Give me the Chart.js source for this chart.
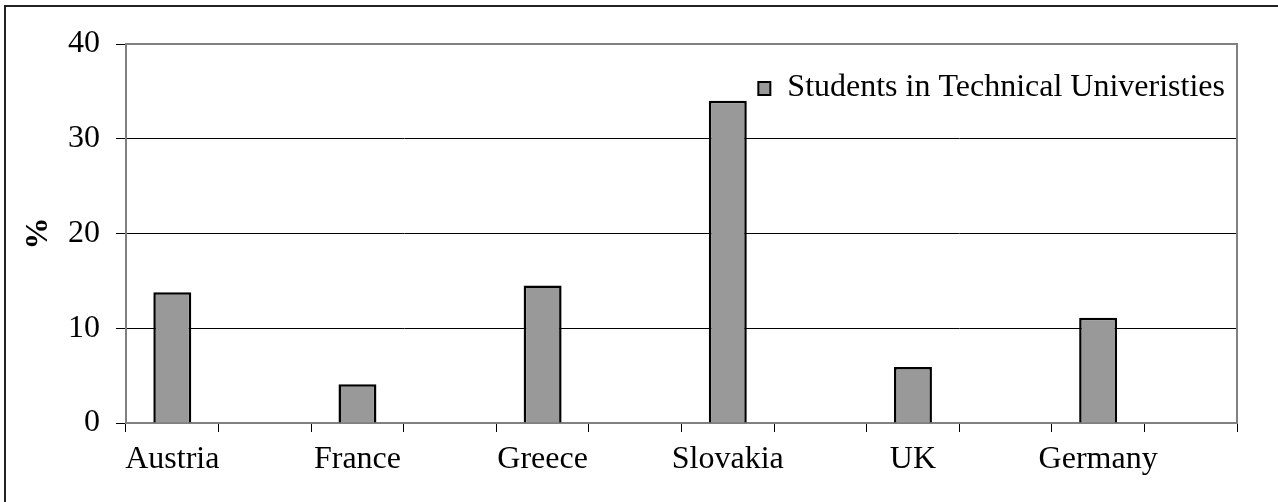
<!DOCTYPE html>
<html>
<head>
<meta charset="utf-8">
<script src="https://cdn.jsdelivr.net/npm/chart.js@4/dist/chart.umd.min.js"></script>
<style>
    html, body { margin: 0; padding: 0; background: #fff; overflow: hidden; }
    #wrap { position: relative; width: 1278px; height: 502px; }
    #frame {
        position: absolute; left: 4px; top: 5px; width: 1290px; height: 510px;
        border-left: 2px solid #222; border-top: 2px solid #222;
        pointer-events: none;
    }
    canvas { position: absolute; left: 0; top: 0; }
</style>
</head>
<body>
<div id="wrap">
    <canvas id="chart" width="1278" height="502"></canvas>
    <div id="frame"></div>
</div>
<script>
// categories (blank slots between countries, like the original sheet)
const countries = ['Austria', '', 'France', '', 'Greece', '', 'Slovakia', '', 'UK', '', 'Germany', ''];
const studentsPct = [13.8, null, 4.1, null, 14.5, null, 34.0, null, 5.9, null, 11.1, null];
const yTicks = [0, 10, 20, 30, 40];
const seriesName = 'Students in Technical Univeristies';

const FONT = "'Liberation Serif', 'Times New Roman', serif";
const FONT_SIZE = 32;

// grey frame on top and right of the plot area
const plotFrame = {
    id: 'plotFrame',
    afterDatasetsDraw(chart) {
        const { ctx, chartArea: a } = chart;
        ctx.save();
        ctx.strokeStyle = '#808080';
        ctx.lineWidth = 2;
        ctx.beginPath();
        ctx.moveTo(a.left, a.top);
        ctx.lineTo(a.right, a.top);
        ctx.lineTo(a.right, a.bottom);
        ctx.stroke();
        ctx.restore();
    }
};

// legend drawn inside the plot, top right
const innerLegend = {
    id: 'innerLegend',
    afterDraw(chart) {
        const { ctx, chartArea: a } = chart;
        const ds = chart.data.datasets[0];
        ctx.save();
        ctx.font = FONT_SIZE + 'px ' + FONT;
        const tw = ctx.measureText(ds.label).width;
        const textX = a.right - 12 - tw;
        const cy = a.top + 44;
        ctx.fillStyle = '#000';
        ctx.textBaseline = 'middle';
        ctx.textAlign = 'left';
        ctx.fillText(ds.label, textX, cy);
        const bx = textX - 29, by = cy - 6;
        ctx.fillStyle = ds.backgroundColor;
        ctx.fillRect(bx, by, 12, 13);
        ctx.strokeStyle = '#000';
        ctx.lineWidth = 2;
        ctx.strokeRect(bx, by, 12, 13);
        ctx.restore();
    }
};

new Chart(document.getElementById('chart'), {
    type: 'bar',
    data: {
        labels: countries,
        datasets: [{
            label: seriesName,
            data: studentsPct,
            backgroundColor: '#999999',
            borderColor: '#000000',
            borderWidth: 2.5,
            barPercentage: 0.41,
            categoryPercentage: 1.0
        }]
    },
    options: {
        responsive: false,
        animation: false,
        layout: { padding: { left: 20, top: 44, right: 41, bottom: 0 } },
        plugins: {
            tooltip: { enabled: false },
            legend: { display: false }
        },
        scales: {
            x: {
                offset: true,
                grid: {
                    offset: true,
                    drawOnChartArea: false,
                    tickLength: 9,
                    tickColor: '#000',
                    lineWidth: 1
                },
                border: { color: '#808080', width: 2 },
                ticks: {
                    autoSkip: false,
                    maxRotation: 0,
                    padding: 8,
                    color: '#000',
                    font: { family: FONT, size: FONT_SIZE }
                },
                afterFit(scale) { scale.height = 79; }
            },
            y: {
                min: 0,
                max: 40,
                afterBuildTicks(scale) { scale.ticks = yTicks.map(v => ({ value: v })); },
                grid: {
                    color: ctx => (ctx.tick && ctx.tick.value === 40) ? '#808080' : '#000',
                    lineWidth: 1,
                    tickLength: 10,
                    tickColor: '#000'
                },
                border: { color: '#808080', width: 2 },
                ticks: {
                    padding: 16,
                    color: '#000',
                    font: { family: FONT, size: FONT_SIZE }
                },
                title: {
                    display: true,
                    text: '%',
                    color: '#000',
                    font: { family: FONT, size: FONT_SIZE, weight: 'bold' },
                    padding: { top: 0, bottom: 12 }
                },
                afterFit(scale) { scale.width = 106; }
            }
        }
    },
    plugins: [plotFrame, innerLegend]
});
</script>
</body>
</html>
